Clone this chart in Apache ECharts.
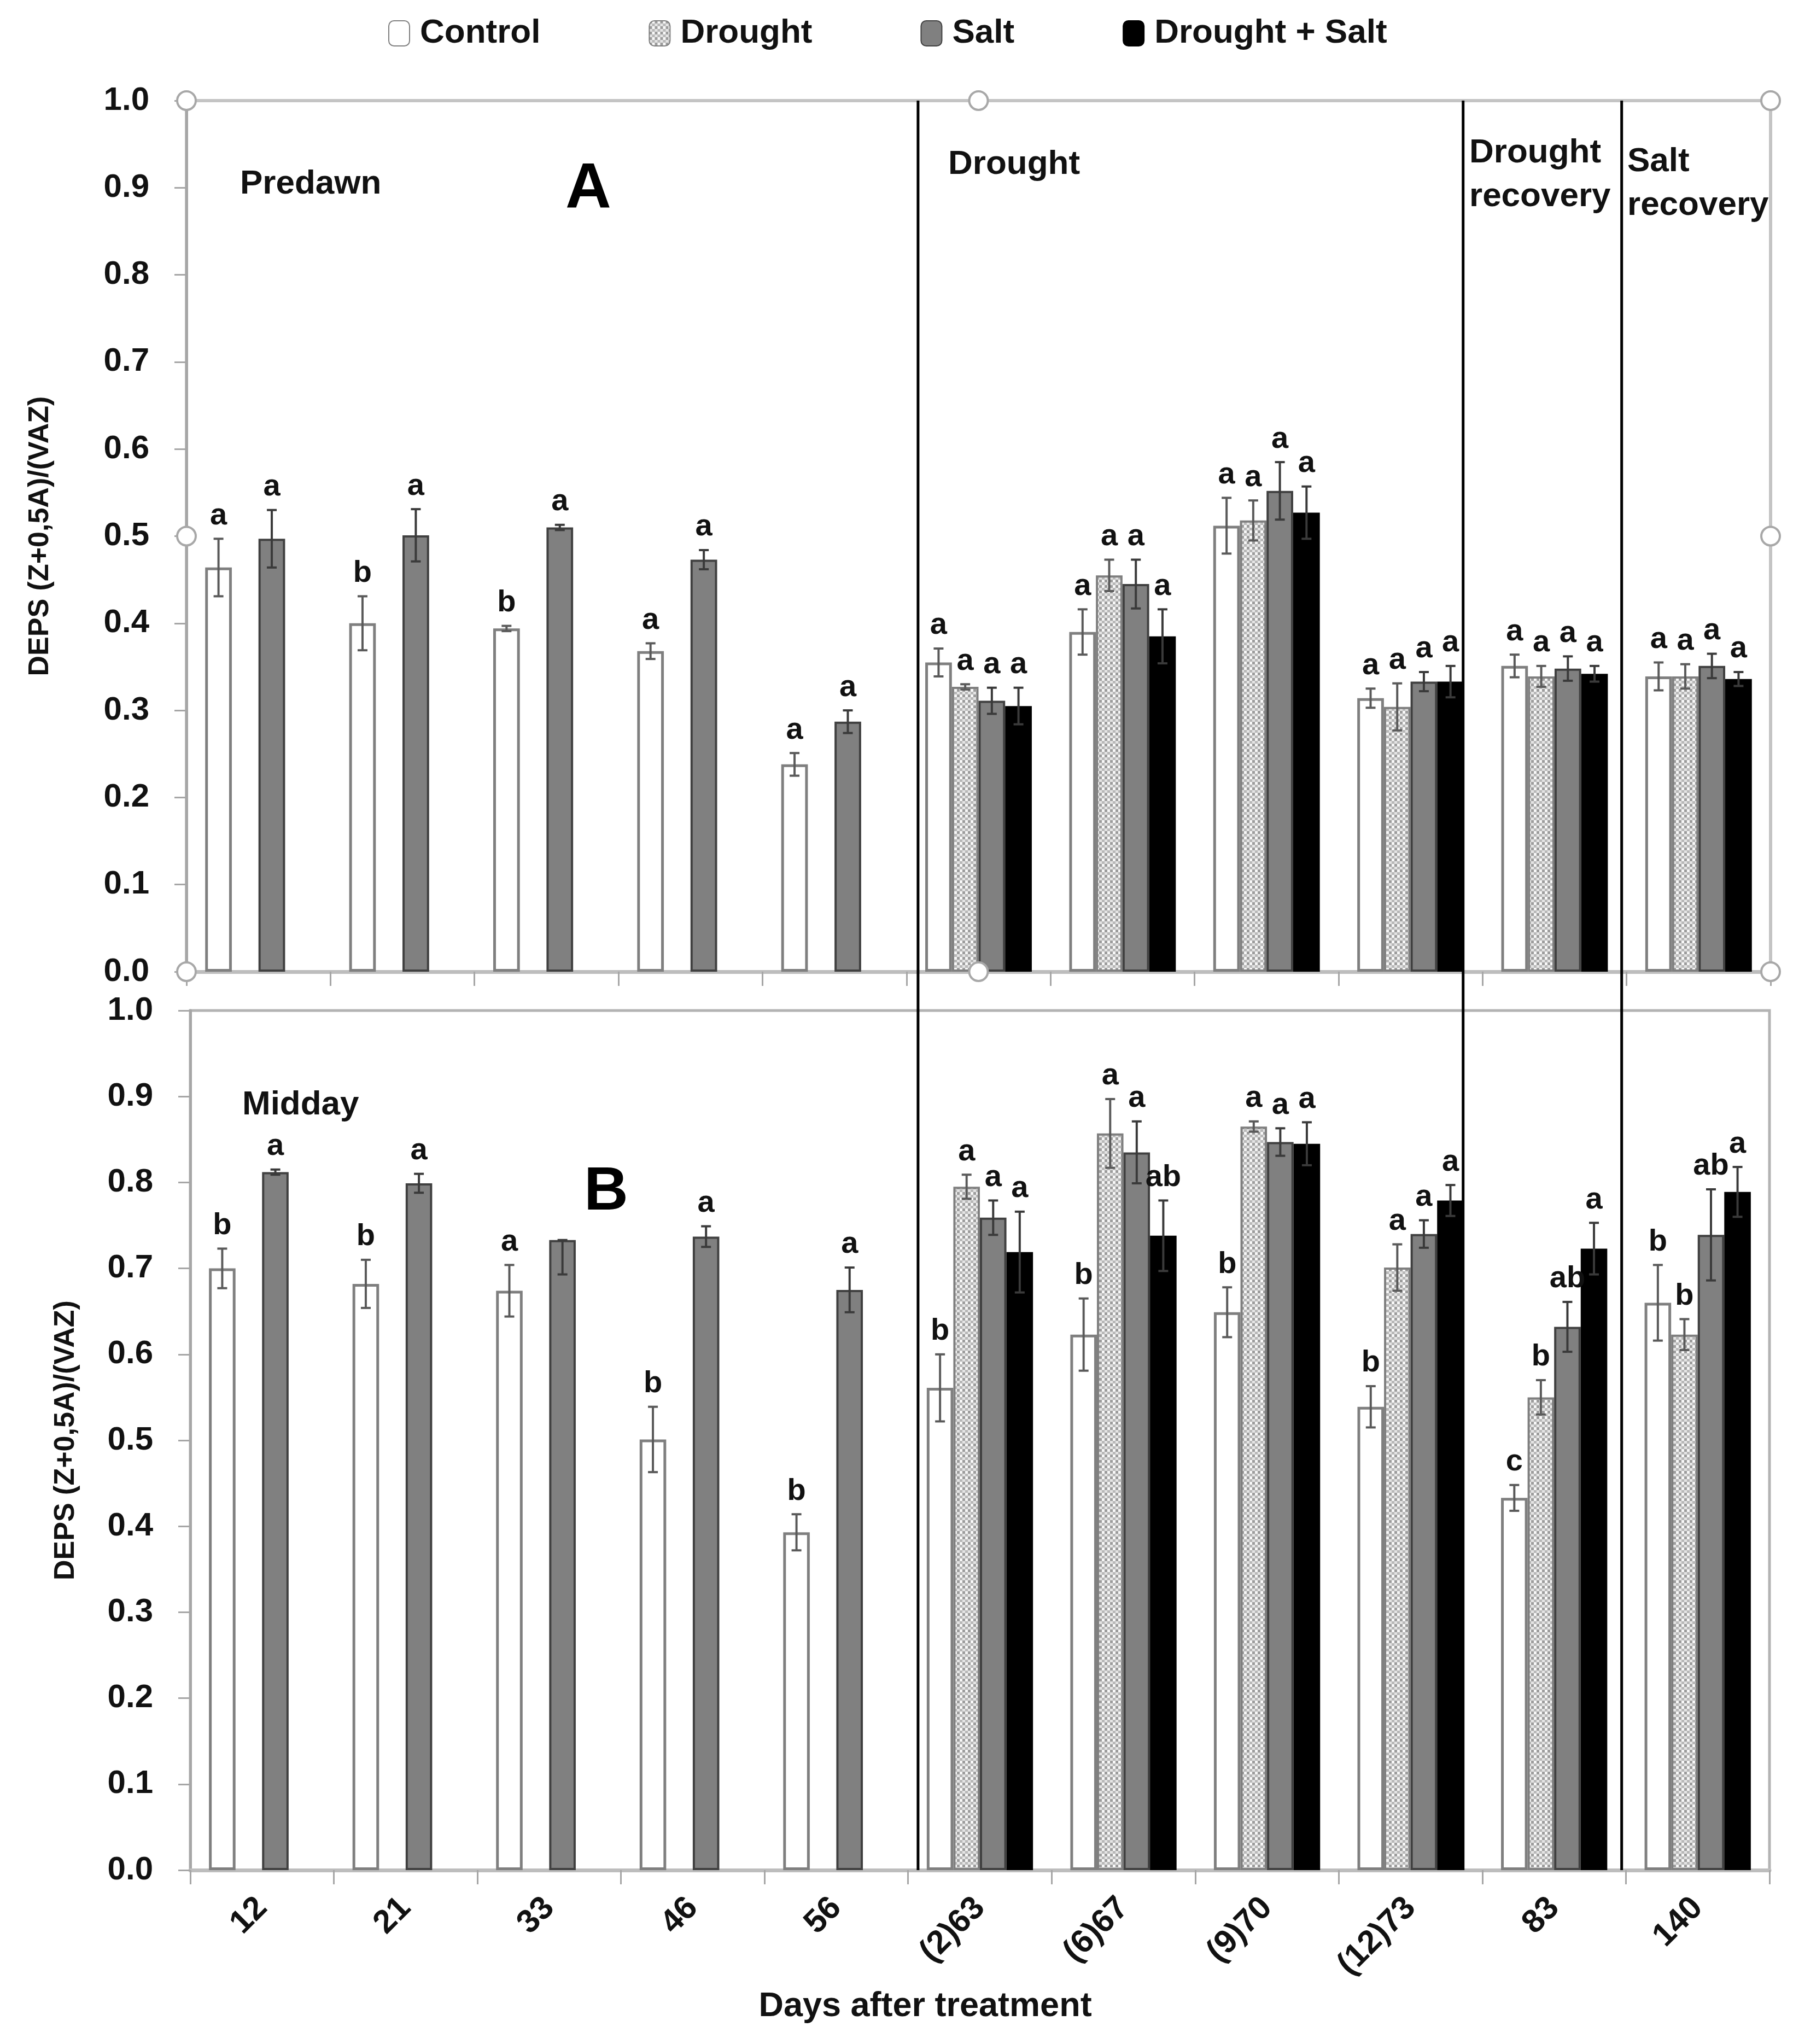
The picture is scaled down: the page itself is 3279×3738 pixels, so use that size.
<!DOCTYPE html>
<html>
<head>
<meta charset="utf-8">
<script src="https://cdn.jsdelivr.net/npm/echarts@6/dist/echarts.min.js"></script>
<style>
  html, body { margin: 0; padding: 0; background: #fff; }
  #chart { width: 3279px; height: 3738px; }
</style>
</head>
<body>
<div id="chart"></div>
<script>
// days after treatment
const days = ['12', '21', '33', '46', '56', '(2)63', '(6)67', '(9)70', '(12)73', '83', '140'];
const groups = ['Control', 'Drought', 'Salt', 'Drought + Salt'];
const yTicks = [0, 0.1, 0.2, 0.3, 0.4, 0.5, 0.6, 0.7, 0.8, 0.9, 1.0];
const _ = null;

// A - predawn
const controlA      = [0.464, 0.400, 0.394, 0.368, 0.238, 0.355, 0.390, 0.512, 0.314, 0.351, 0.339];
const controlAErr   = [0.033, 0.031, 0.003, 0.009, 0.013, 0.016, 0.026, 0.032, 0.011, 0.013, 0.016];
const controlALet   = ['a', 'b', 'b', 'a', 'a', 'a', 'a', 'a', 'a', 'a', 'a'];
const droughtA      = [_, _, _, _, _, 0.327, 0.455, 0.518, 0.304, 0.339, 0.339];
const droughtAErr   = [_, _, _, _, _, 0.003, 0.018, 0.023, 0.027, 0.012, 0.014];
const droughtALet   = [_, _, _, _, _, 'a', 'a', 'a', 'a', 'a', 'a'];
const saltA         = [0.497, 0.501, 0.510, 0.473, 0.287, 0.311, 0.445, 0.552, 0.333, 0.348, 0.351];
const saltAErr      = [0.033, 0.030, 0.003, 0.011, 0.013, 0.015, 0.028, 0.033, 0.011, 0.014, 0.014];
const saltALet      = ['a', 'a', 'a', 'a', 'a', 'a', 'a', 'a', 'a', 'a', 'a'];
const bothA         = [_, _, _, _, _, 0.305, 0.385, 0.527, 0.333, 0.342, 0.336];
const bothAErr      = [_, _, _, _, _, 0.021, 0.031, 0.030, 0.018, 0.009, 0.008];
const bothALet      = [_, _, _, _, _, 'a', 'a', 'a', 'a', 'a', 'a'];

// B - midday
const controlB      = [0.700, 0.682, 0.674, 0.501, 0.393, 0.561, 0.623, 0.649, 0.539, 0.433, 0.660];
const controlBErr   = [0.023, 0.028, 0.030, 0.038, 0.021, 0.039, 0.042, 0.029, 0.024, 0.015, 0.044];
const controlBLet   = ['b', 'b', 'a', 'b', 'b', 'b', 'b', 'b', 'b', 'c', 'b'];
const droughtB      = [_, _, _, _, _, 0.795, 0.857, 0.865, 0.701, 0.550, 0.623];
const droughtBErr   = [_, _, _, _, _, 0.014, 0.040, 0.006, 0.027, 0.020, 0.018];
const droughtBLet   = [_, _, _, _, _, 'a', 'a', 'a', 'a', 'b', 'b'];
const saltB         = [0.812, 0.799, 0.733, 0.737, 0.675, 0.759, 0.835, 0.847, 0.740, 0.632, 0.739];
const saltBErr      = [0.003, 0.011, [0.040, 0], 0.012, 0.026, 0.020, 0.036, 0.016, 0.016, 0.029, 0.053];
const saltBLet      = ['a', 'a', _, 'a', 'a', 'a', 'a', 'a', 'a', 'ab', 'ab'];
const bothB         = [_, _, _, _, _, 0.719, 0.738, 0.845, 0.779, 0.723, 0.789];
const bothBErr      = [_, _, _, _, _, 0.047, 0.041, 0.025, 0.018, 0.030, 0.029];
const bothBLet      = [_, _, _, _, _, 'a', 'ab', 'a', 'a', 'a', 'a'];

// period separators (in category units) and chart-selection handles of panel A
const dividers = [5.08, 8.865, 9.966];
const handleX = [0, 5.5, 11];
const handleY = [0, 0.5, 1];

const FONT = "'Liberation Sans', Arial, sans-serif";
const CAT_GAP = 0.26;

function droughtPattern() {
  const c = document.createElement('canvas');
  c.width = 10; c.height = 10;
  const g = c.getContext('2d');
  g.fillStyle = '#e4e4e4'; g.fillRect(0, 0, 10, 10);
  g.fillStyle = '#9c9c9c'; g.fillRect(0, 0, 5, 5);
  g.fillStyle = '#b8b8b8'; g.fillRect(5, 5, 5, 5);
  g.fillStyle = '#f8f8f8'; g.fillRect(5, 0, 5, 5);
  return c;
}

const styles = [
  { color: '#ffffff', borderColor: '#7f7f7f', borderWidth: 5 },
  { color: { image: droughtPattern(), repeat: 'repeat' }, borderColor: '#7f7f7f', borderWidth: 4 },
  { color: '#808080', borderColor: '#404040', borderWidth: 4 },
  { color: '#000000', borderColor: '#000000', borderWidth: 2 }
];

const panels = [
  { vals: [controlA, droughtA, saltA, bothA], errs: [controlAErr, droughtAErr, saltAErr, bothAErr],
    lets: [controlALet, droughtALet, saltALet, bothALet] },
  { vals: [controlB, droughtB, saltB, bothB], errs: [controlBErr, droughtBErr, saltBErr, bothBErr],
    lets: [controlBLet, droughtBLet, saltBLet, bothBLet] }
];

const series = [];
panels.forEach((p, pi) => {
  p.vals.forEach((vals, gi) => {
    series.push({
      name: groups[gi], type: 'bar', xAxisIndex: pi, yAxisIndex: pi,
      data: vals, itemStyle: styles[gi],
      barGap: '0%', barCategoryGap: (CAT_GAP * 100) + '%', z: 2
    });
  });
  p.vals.forEach((vals, gi) => {
    const rows = [];
    vals.forEach((v, i) => {
      if (v == null) return;
      const e = p.errs[gi][i];
      const lo = Array.isArray(e) ? e[0] : e;
      const hi = Array.isArray(e) ? e[1] : e;
      rows.push([i, v, v - lo, v + hi, p.lets[gi][i] || '']);
    });
    series.push({
      type: 'custom', xAxisIndex: pi, yAxisIndex: pi, z: 4, silent: true,
      data: rows,
      renderItem: (params, api) => {
        const cat = api.value(0);
        const center = api.coord([cat, 0])[0];
        const catW = api.size([1, 0])[0];
        const bw = catW * (1 - CAT_GAP) / 4;
        const x = center - catW * (1 - CAT_GAP) / 2 + (gi + 0.5) * bw;
        const yLo = api.coord([cat, api.value(2)])[1];
        const yHi = api.coord([cat, api.value(3)])[1];
        const ls = { stroke: gi === 0 || gi === 1 ? '#5a5a5a' : '#3a3a3a', lineWidth: 4 };
        const kids = [
          { type: 'line', shape: { x1: x, y1: yLo, x2: x, y2: yHi }, style: ls },
          { type: 'line', shape: { x1: x - 9, y1: yLo, x2: x + 9, y2: yLo }, style: ls },
          { type: 'line', shape: { x1: x - 9, y1: yHi, x2: x + 9, y2: yHi }, style: ls }
        ];
        const letter = rows[params.dataIndex][4];
        if (letter) {
          kids.push({ type: 'text', x: x, y: yHi - 14,
            style: { text: letter, fill: '#111', font: 'bold 56px ' + FONT, align: 'center', verticalAlign: 'bottom' } });
        }
        return { type: 'group', children: kids };
      }
    });
  });
});

// selection handles on panel A
const handles = [];
handleX.forEach(x => handleY.forEach(y => { if (!(x === 5.5 && y === 0.5)) handles.push([x, y]); }));
series.push({
  type: 'scatter', xAxisIndex: 2, yAxisIndex: 2, data: handles, symbol: 'circle', symbolSize: 34,
  itemStyle: { color: '#ffffff', borderColor: '#a8a8a8', borderWidth: 4, opacity: 1 }, z: 6, silent: true
});

// period separator lines spanning both panels
series.push({
  type: 'custom', xAxisIndex: 3, yAxisIndex: 3, z: 5, silent: true,
  data: dividers.map(d => [d]),
  renderItem: (params, api) => {
    const top = api.coord([api.value(0), 1]);
    const bot = api.coord([api.value(0), 0]);
    return { type: 'line', shape: { x1: top[0], y1: top[1], x2: bot[0], y2: bot[1] },
      style: { stroke: '#000', lineWidth: 5 } };
  }
});

const tickLabel = { fontFamily: FONT, fontWeight: 'bold', fontSize: 60, color: '#111' };

function catAxis(gi, showLabels) {
  return {
    type: 'category', gridIndex: gi, data: days, boundaryGap: true,
    axisLine: { lineStyle: { color: '#bdbdbd', width: 7 } },
    axisTick: { show: true, interval: 0, length: 26, lineStyle: { color: '#a6a6a6', width: 3 } },
    axisLabel: showLabels ? Object.assign({ rotate: 45, interval: 0, margin: 60 }, tickLabel) : { show: false },
    name: showLabels ? 'Days after treatment' : '',
    nameLocation: 'middle', nameGap: 218,
    nameTextStyle: { fontFamily: FONT, fontWeight: 'bold', fontSize: 63, color: '#111', padding: [0, 200, 0, 0] }
  };
}

function valAxis(gi, gap) {
  return {
    type: 'value', gridIndex: gi, min: 0, max: 1, interval: 0.1,
    axisLine: { show: true, lineStyle: { color: '#a6a6a6', width: 5 } },
    axisTick: { show: true, length: 22, lineStyle: { color: '#a6a6a6', width: 3 } },
    splitLine: { show: false },
    axisLabel: Object.assign({ margin: 68, formatter: v => v.toFixed(1) }, tickLabel),
    name: 'DEPS (Z+0,5A)/(VAZ)', nameLocation: 'middle', nameGap: gap,
    nameTextStyle: { fontFamily: FONT, fontWeight: 'bold', fontSize: 52, color: '#111' }
  };
}

const option = {
  backgroundColor: '#ffffff',
  animation: false,
  legend: {
    data: groups, left: 705, top: 25, itemWidth: 38, itemHeight: 46, itemGap: 198,
    textStyle: { fontFamily: FONT, fontWeight: 'bold', fontSize: 62, color: '#111', padding: [0, 0, 0, 14] }
  },
  grid: [
    { left: 341, top: 184, width: 2897, height: 1593, show: true, borderColor: '#c4c4c4', borderWidth: 6, backgroundColor: 'transparent' },
    { left: 348, top: 1848, width: 2888, height: 1572, show: true, borderColor: '#b3b3b3', borderWidth: 5, backgroundColor: 'transparent' },
    { left: 341, top: 184, width: 2897, height: 3236 }
  ],
  xAxis: [
    catAxis(0, false),
    catAxis(1, true),
    { type: 'value', gridIndex: 0, min: 0, max: 11, show: false },
    { type: 'value', gridIndex: 2, min: 0, max: 11, show: false }
  ],
  yAxis: [
    valAxis(0, 241),
    valAxis(1, 201),
    { type: 'value', gridIndex: 0, min: 0, max: 1, show: false },
    { type: 'value', gridIndex: 2, min: 0, max: 1, show: false }
  ],
  graphic: [
    { type: 'text', left: 439, top: 306, style: { text: 'Predawn', font: 'bold 62px ' + FONT, fill: '#111' } },
    { type: 'text', left: 1034, top: 290, style: { text: 'A', font: 'bold 116px ' + FONT, fill: '#000' } },
    { type: 'text', left: 1734, top: 270, style: { text: 'Drought', font: 'bold 62px ' + FONT, fill: '#111' } },
    { type: 'text', left: 2687, top: 240, style: { text: 'Drought\nrecovery', font: 'bold 62px ' + FONT, fill: '#111', lineHeight: 80 } },
    { type: 'text', left: 2976, top: 256, style: { text: 'Salt\nrecovery', font: 'bold 62px ' + FONT, fill: '#111', lineHeight: 80 } },
    { type: 'text', left: 443, top: 1990, style: { text: 'Midday', font: 'bold 62px ' + FONT, fill: '#111' } },
    { type: 'text', left: 1068, top: 2125, style: { text: 'B', font: 'bold 112px ' + FONT, fill: '#000' } }
  ],
  series: series
};

const chart = echarts.init(document.getElementById('chart'));
chart.setOption(option);
</script>
</body>
</html>
